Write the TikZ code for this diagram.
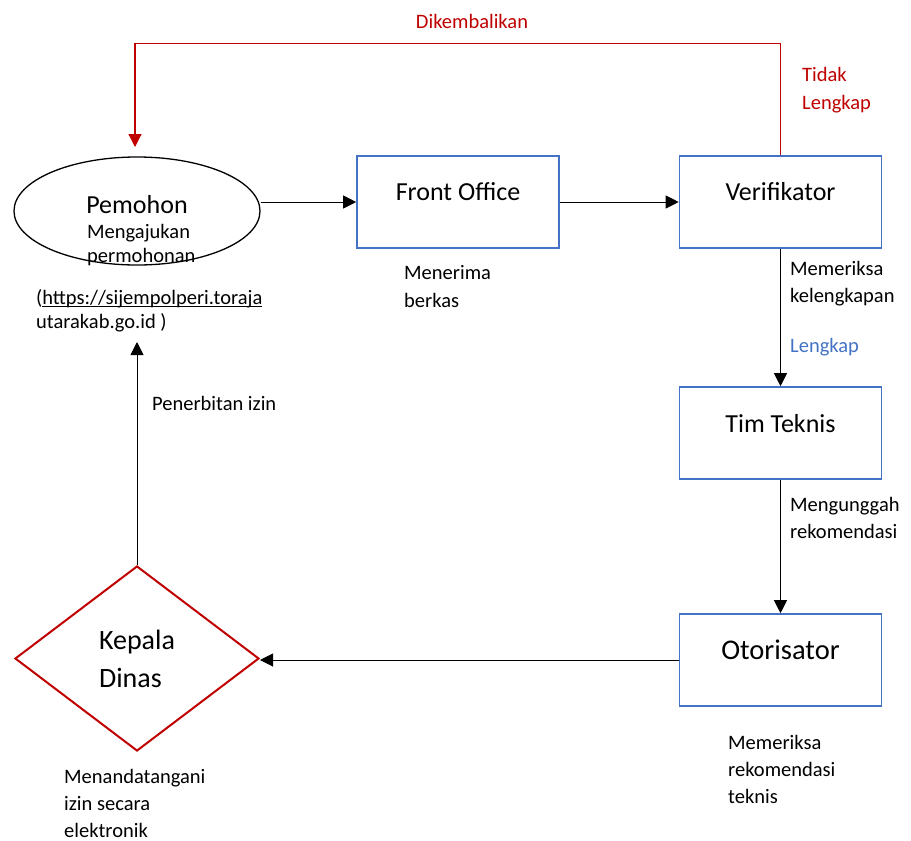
\documentclass[tikz,border=0pt]{standalone}
\usepackage{fontspec}
\setmainfont{Carlito}
\usetikzlibrary{arrows.meta,shapes.geometric}
\definecolor{boxblue}{HTML}{4472C4}
\definecolor{backred}{HTML}{C00000}
\newcommand\linkul[1]{\leavevmode\setbox0\hbox{#1}\rlap{\rule[-3pt]{\wd0}{1.1pt}}\box0}
\tikzset{
  stepbox/.style={
    draw=boxblue,
    line width=1.6pt,
    rectangle,
    minimum width=202pt,
    minimum height=92pt,
    inner sep=0pt,
    font=\fontsize{26}{31}\selectfont
  },
  note/.style={anchor=base west, align=left, inner sep=0pt, font=\fontsize{20.5}{27}\selectfont},
  flow/.style={line width=1pt, -{Triangle[length=13pt,width=13pt]}}
}
\begin{document}
\begin{tikzpicture}[x=1pt,y=-1pt]
		\useasboundingbox (0,0) rectangle (911,841);
		% applicant (base = last line)
		\node[ellipse,draw,line width=1.3pt,minimum width=246pt,minimum height=108pt] at (137,211) (pemohon) {};
		\node[anchor=base,inner sep=0pt,font=\fontsize{26}{31}\selectfont] at (137,213) (pemohonlbl) {Pemohon};
		\node[note,font=\fontsize{20.5}{24}\selectfont] at (87,262) (ajukan) {Mengajukan\\ permohonan};
		\node[note,font=\fontsize{20.5}{24}\selectfont] at (36,328) (url) {(\linkul{https://sijempolperi.toraja}\\ utarakab.go.id )};
		% process boxes
		\node[stepbox,text height=18pt,text depth=22pt] at (458,202) (fo) {Front Office};
		\node[stepbox,text height=18pt,text depth=22pt] at (780.5,202) (verif) {Verifikator};
		\node[stepbox,text height=18pt,text depth=20pt] at (780.5,433) (tim) {Tim Teknis};
		\node[stepbox,text height=19pt,text depth=21pt,font=\fontsize{28.5}{34}\selectfont] at (780.5,660) (oto) {Otorisator};
		\node[diamond,draw=backred,line width=2pt,minimum width=244pt,minimum height=185pt,inner sep=0pt,align=left,font=\fontsize{28}{38}\selectfont] at (137,658.5) (kadis) {Kepala\\ Dinas};
		% notes
		\node[note,font=\fontsize{20.5}{28}\selectfont] at (404,307) (terima) {Menerima\\ berkas};
		\node[note] at (790,302) (periksa) {Memeriksa\\ kelengkapan};
		\node[note,text=boxblue] at (790,352) (lengkap) {Lengkap};
		\node[note] at (790,538) (unggah) {Mengunggah\\ rekomendasi};
		\node[note] at (728,803) (rekom) {Memeriksa\\ rekomendasi\\ teknis};
		\node[note] at (152,410) (terbit) {Penerbitan izin};
		\node[note] at (64,837) (ttd) {Menandatangani\\ izin secara\\ elektronik};
		\node[note,anchor=base,text=backred] at (472,28) (kembali) {Dikembalikan};
		\node[note,text=backred,font=\fontsize{20.5}{28}\selectfont] at (802,109) (tidak) {Tidak\\ Lengkap};
		% connectors
		\draw[flow] (fo.west -| pemohon.east) -- (fo.west);
		\draw[flow] (fo.east) -- (verif.west);
		\draw[flow] (verif.south) -- (tim.north);
		\draw[flow] (tim.south) -- (oto.north);
		\draw[flow] (oto.west) -- (oto.west -| kadis.east);
		\coordinate (izintip) at (137,342);
		\draw[flow] (kadis.north) -- (izintip);
		\coordinate (backtip) at (135,147);
		\draw[flow,draw=backred,line width=1.2pt] (verif.north) -- ++(0,-112) -| (backtip);
\end{tikzpicture}
\end{document}
